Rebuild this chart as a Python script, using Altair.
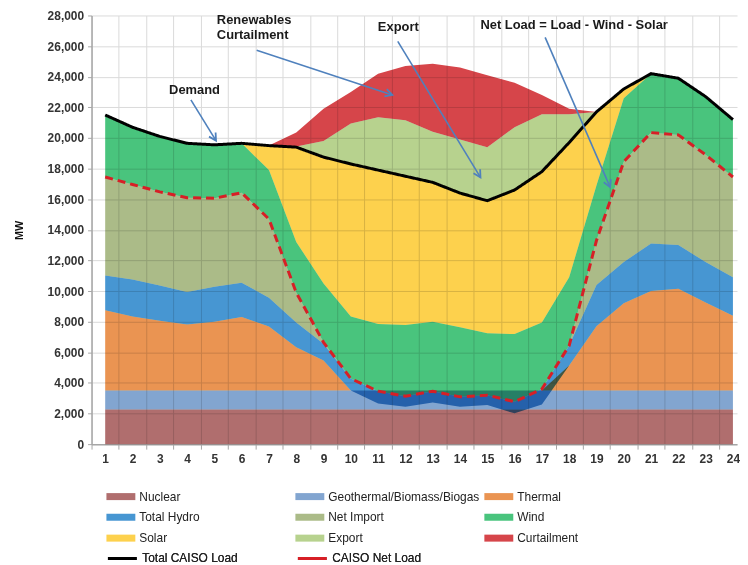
import math
import altair as alt
import numpy as np
import pandas as pd

# ---------------- data (MW) ----------------
hours = list(range(1, 25))

nuclear = [2270, 2270, 2270, 2270, 2270, 2270, 2270, 2270, 2270, 2270, 2270, 2270,
           2270, 2270, 2270, 2270, 2270, 2270, 2270, 2270, 2270, 2270, 2270, 2270]
geothermal = [1230, 1230, 1230, 1230, 1230, 1230, 1230, 1230, 1230, 1230, 1230, 1230,
              1230, 1230, 1230, 1230, 1230, 1230, 1230, 1230, 1230, 1230, 1230, 1230]
thermal = [5250, 4840, 4560, 4320, 4490, 4800, 4190, 2830, 1960, 0, -840, -1060,
           -780, -1060, -950, -1490, -910, 1640, 4200, 5700, 6500, 6650, 5750, 4880]
hydro = [2270, 2420, 2310, 2120, 2290, 2240, 1880, 1620, 1090, 780, 800, 690,
         740, 650, 650, 760, 1010, 1300, 2700, 2700, 3100, 2850, 2650, 2520]
net_import = [6430, 6200, 6110, 6160, 5780, 5880, 5130, 1950, 100, 0, 0, 0,
              0, 0, 0, 0, 0, 0, 2900, 6550, 7250, 7200, 7000, 6550]
wind = [4050, 3740, 3620, 3550, 3490, 3230, 3200, 3300, 3850, 4060, 4380, 4650,
        4530, 4540, 4040, 4420, 4350, 4460, 3600, 4150, 3850, 3700, 3800, 3750]
solar = [0, 0, 0, 0, 0, 0, 1600, 6200, 8250, 9960, 10060, 9720,
         9110, 8770, 8660, 9410, 9850, 8800, 4800, 600, 0, 0, 0, 0]
export = [0, 0, 0, 0, 0, 0, 0, 50, 1050, 2650, 3450, 3650,
          3300, 3500, 3500, 4100, 3750, 1850, 0, 0, 0, 0, 0, 0]
curtailment = [0, 0, 0, 0, 0, 0, 0, 900, 2100, 2050, 2850, 3550,
               4450, 4700, 4700, 2900, 1250, 350, 0, 0, 0, 0, 0, 0]

total_load = [21500, 20700, 20100, 19650, 19550, 19650, 19500, 19400, 18750, 18300, 17900, 17500,
              17100, 16400, 15900, 16600, 17800, 19700, 21700, 23200, 24200, 23900, 22700, 21200]
net_load = [17450, 16960, 16480, 16100, 16060, 16420, 14700, 9900, 6650, 4280, 3460, 3130,
            3460, 3090, 3200, 2770, 3600, 6440, 13300, 18450, 20350, 20200, 18900, 17450]

area_names = ["Nuclear", "Geothermal/Biomass/Biogas", "Thermal", "Total Hydro", "Net Import",
              "Wind", "Solar", "Export", "Curtailment"]
area_values = [nuclear, geothermal, thermal, hydro, net_import, wind, solar, export, curtailment]
area_colors = ["#b06e6e", "#82a5d0", "#ea9452", "#4796d2", "#abbb88",
               "#49c47d", "#fdd14d", "#b7d28e", "#d6454a"]
line_names = ["Total CAISO Load", "CAISO Net Load"]
line_values = [total_load, net_load]
line_colors = ["#000000", "#d71f26"]
line_dashes = [[1, 0], [8, 5]]

ann_labels = ["Demand", "Renewables", "Curtailment", "Export", "Net Load = Load - Wind - Solar"]
ann_hours = [3.34, 5.09, 5.09, 10.99, 14.75]
ann_mw = [23150, 27680, 26700, 27220, 27360]

arrow_hour = [4.14, 6.55, 11.72, 17.12]
arrow_mw = [22490, 25730, 26310, 26570]
arrow_hour2 = [5.06, 11.52, 14.75, 19.50]
arrow_mw2 = [19830, 22810, 17430, 16790]

# ---------------- layout ----------------
W, H = 649, 431
X_DOMAIN = [0.5, 24.15]
Y_MAX = 28000
STEP = W / (X_DOMAIN[1] - X_DOMAIN[0])
FONT = "Liberation Sans"

# ---------------- tables ----------------
rows = []
cum = np.zeros(len(hours))
for name, vals in zip(area_names, area_values):
    v = np.array(vals, dtype=float)
    lo = cum.copy()
    hi = cum + v
    hi_draw = np.maximum(hi, lo)  # a negative contribution lowers the base, draws no fill
    for h, a, b in zip(hours, lo, hi_draw):
        rows.append({"hour": h, "series": name, "lo": a, "hi": b})
    cum = hi
area_df = pd.DataFrame(rows)

line_df = pd.DataFrame([
    {"hour": h, "series": name, "mw": v}
    for name, vals in zip(line_names, line_values) for h, v in zip(hours, vals)
])

ann_df = pd.DataFrame({"label": ann_labels, "hour": ann_hours, "mw": ann_mw})

px_h = STEP
px_mw = H / Y_MAX
angles = []
for h1, m1, h2, m2 in zip(arrow_hour, arrow_mw, arrow_hour2, arrow_mw2):
    dx = (h2 - h1) * px_h
    dy = -(m2 - m1) * px_mw
    angles.append(math.degrees(math.atan2(dx, -dy)) % 360)
arrow_df = pd.DataFrame({"hour": arrow_hour, "mw": arrow_mw, "hour2": arrow_hour2,
                         "mw2": arrow_mw2, "angle": angles})

# ---------------- encodings ----------------
x_axis = alt.Axis(
    values=[h - 0.5 for h in hours],
    labelExpr="format(datum.value + 0.5, 'd')",
    labelOffset=STEP / 2,
    labelFlush=False,
    labelOverlap=False,
    grid=True, gridColor="#dadada", gridWidth=1,
    ticks=True, tickSize=5, tickColor="#a6a6a6",
    domainColor="#a6a6a6", domainWidth=1.5,
    labelFont=FONT, labelFontSize=12, labelFontWeight="bold", labelColor="#333333",
    labelPadding=4, title=None,
)
y_axis = alt.Axis(
    values=list(range(0, Y_MAX + 1, 2000)),
    format=",d",
    grid=True, gridColor="#dadada", gridWidth=1,
    ticks=True, tickSize=4, tickColor="#a6a6a6",
    domainColor="#a6a6a6", domainWidth=1.5,
    labelFont=FONT, labelFontSize=12, labelFontWeight="bold", labelColor="#333333",
    labelPadding=4,
    title="MW", titleFont=FONT, titleFontSize=11, titleFontWeight="bold",
    titleColor="#111111", titlePadding=23,
)
x_scale = alt.Scale(domain=X_DOMAIN, nice=False, zero=False)
y_scale = alt.Scale(domain=[0, Y_MAX], nice=False)

legend_common = dict(
    orient="none", direction="horizontal", gridAlign="all", rowPadding=5,
    symbolSize=361, labelOffset=9, labelLimit=220,
    labelFont=FONT, labelFontSize=12, labelColor="#222222",
    title=None, padding=0, symbolOpacity=1,
)
legend_areas = alt.Legend(
    legendX=20, legendY=474, columns=3, columnPadding=3,
    symbolType="M-1.53,-0.37H1.53V0.37H-1.53Z", symbolStrokeWidth=0,
    **legend_common,
)
legend_lines = alt.Legend(
    legendX=20, legendY=535, columns=3, columnPadding=53,
    symbolType="M-1.53,0H1.53", symbolStrokeWidth=3, symbolFillColor="transparent",
    **legend_common,
)

area_color = alt.Color("series:N",
                       scale=alt.Scale(domain=area_names, range=area_colors),
                       legend=legend_areas)
line_color = alt.Color("series:N",
                       scale=alt.Scale(domain=line_names, range=line_colors),
                       legend=legend_lines)
line_dash = alt.StrokeDash("series:N",
                           scale=alt.Scale(domain=line_names, range=line_dashes),
                           legend=legend_lines)

x_enc = alt.X("hour:Q", scale=x_scale, axis=x_axis)
y_lo = alt.Y("lo:Q", scale=y_scale, axis=y_axis)
y_mw = alt.Y("mw:Q", scale=y_scale, axis=y_axis)

area_layers = []
for name in area_names:
    area_layers.append(
        alt.Chart(area_df)
        .transform_filter(alt.datum.series == name)
        .mark_area(blend="multiply", opacity=1)
        .encode(x=x_enc, y=y_lo, y2="hi:Q", color=area_color)
    )
areas = alt.layer(*area_layers)

line_layers = []
for name in ["CAISO Net Load", "Total CAISO Load"]:
    line_layers.append(
        alt.Chart(line_df).transform_filter(alt.datum.series == name)
        .mark_line(strokeWidth=3)
        .encode(x=x_enc, y=y_mw, color=line_color, strokeDash=line_dash)
    )
lines = alt.layer(*line_layers)

arrow_color = "#4f81bd"
arrows = alt.Chart(arrow_df).mark_rule(color=arrow_color, strokeWidth=1.6).encode(
    x=x_enc, y=y_mw, x2="hour2:Q", y2="mw2:Q"
)
heads = alt.Chart(arrow_df).mark_point(
    shape="M-0.55,1L0,0L0.55,1", filled=False, size=200,
    color=arrow_color, strokeWidth=1.8, opacity=1,
).encode(
    x=alt.X("hour2:Q", scale=x_scale, axis=x_axis),
    y=alt.Y("mw2:Q", scale=y_scale, axis=y_axis),
    angle=alt.Angle("angle:Q", scale=None),
)
texts = alt.Chart(ann_df).mark_text(
    align="left", baseline="middle", font=FONT, fontSize=13,
    fontWeight="bold", color="#1a1a1a",
).encode(
    x=alt.X("hour:Q", scale=x_scale, axis=x_axis),
    y=y_mw,
    text="label:N",
)

chart = (
    alt.layer(areas, lines, arrows, heads, texts)
    .resolve_scale(color="independent")
    .properties(width=W, height=H, padding={"left": 5, "top": 0, "right": 0, "bottom": 0},
                background="white")
    .configure_view(stroke=None)
)

chart.save("out.html", embed_options={"renderer": "svg", "actions": False})
